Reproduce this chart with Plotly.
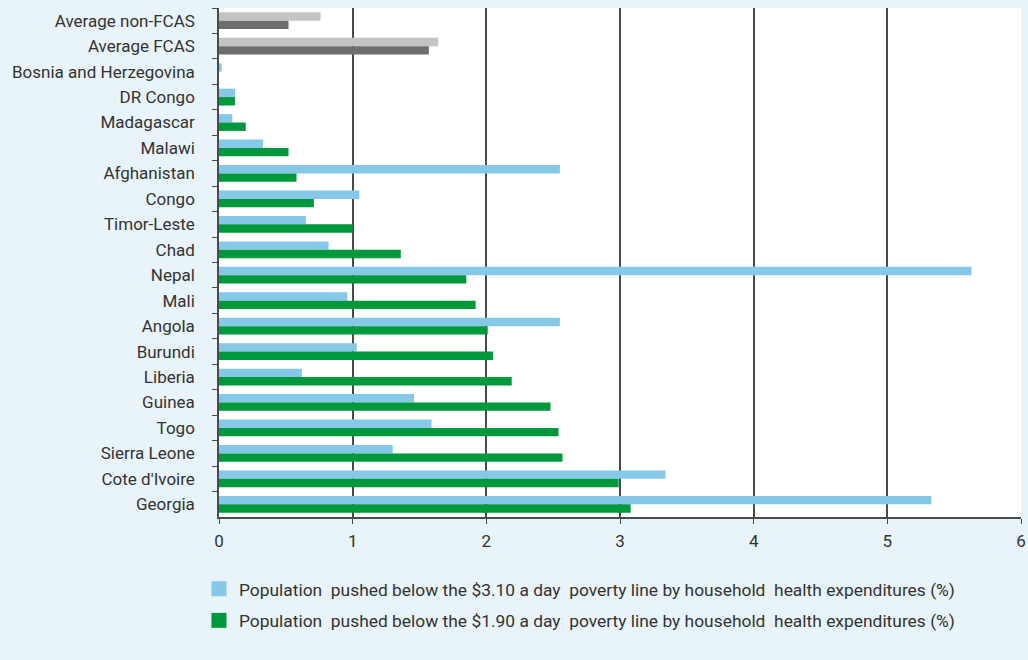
import plotly.graph_objects as go

countries = [
    "Average non-FCAS", "Average FCAS", "Bosnia and Herzegovina", "DR Congo",
    "Madagascar", "Malawi", "Afghanistan", "Congo", "Timor-Leste", "Chad",
    "Nepal", "Mali", "Angola", "Burundi", "Liberia", "Guinea", "Togo",
    "Sierra Leone", "Cote d'Ivoire", "Georgia",
]
pushed_310 = [0.76, 1.64, 0.02, 0.12, 0.10, 0.33, 2.55, 1.05, 0.65, 0.82,
              5.63, 0.96, 2.55, 1.03, 0.62, 1.46, 1.59, 1.30, 3.34, 5.33]
pushed_190 = [0.52, 1.57, 0.0, 0.12, 0.20, 0.52, 0.58, 0.71, 1.00, 1.36,
              1.85, 1.92, 2.01, 2.05, 2.19, 2.48, 2.54, 2.57, 2.99, 3.08]
x_ticks = [0, 1, 2, 3, 4, 5, 6]

LIGHT_BLUE = "#85C8E8"
GREEN = "#00983D"
LIGHT_GREY = "#C4C4C4"
DARK_GREY = "#6E6E6E"
BG = "#E8F3FA"
AXIS = "#4a4a4a"

# the two averages rows are shown in greys
n_avg = 2
colors_310 = [LIGHT_GREY] * n_avg + [LIGHT_BLUE] * (len(countries) - n_avg)
colors_190 = [DARK_GREY] * n_avg + [GREEN] * (len(countries) - n_avg)

name_310 = "Population&nbsp; pushed below the $3.10 a day&nbsp; poverty line by household&nbsp; health expenditures (%)"
name_190 = "Population&nbsp; pushed below the $1.90 a day&nbsp; poverty line by household&nbsp; health expenditures (%)"

fig = go.Figure()
fig.add_trace(go.Bar(
    y=countries, x=pushed_310, orientation="h", name=name_310,
    marker=dict(color=colors_310, line=dict(width=0)),
    legendgroup="a", showlegend=False,
))
fig.add_trace(go.Bar(
    y=countries, x=pushed_190, orientation="h", name=name_190,
    marker=dict(color=colors_190, line=dict(width=0)),
    legendgroup="b", showlegend=False,
))

# legend swatches in the series colours (bars use per-row colours)
for name, col, grp in [(name_310, LIGHT_BLUE, "a"), (name_190, GREEN, "b")]:
    fig.add_trace(go.Scatter(
        x=[None], y=[None], mode="markers", name=name, legendgroup=grp,
        marker=dict(symbol="square", size=15, color=col),
        showlegend=True,
    ))

fig.update_layout(
    width=1028, height=660,
    margin=dict(l=219, r=7, t=8, b=143),
    paper_bgcolor=BG, plot_bgcolor="white",
    barmode="group", bargap=0.34, bargroupgap=0,
    font=dict(family="Roboto, sans-serif", size=17, color="#333333"),
    showlegend=True,
    legend=dict(
        x=-0.025, xanchor="left", y=-0.106, yanchor="top",
        orientation="v", traceorder="grouped", tracegroupgap=6,
        bgcolor="rgba(0,0,0,0)", font=dict(size=17.4, color="#333333"),
        itemwidth=30,
    ),
)
fig.update_xaxes(
    range=[0, 6], tickvals=x_ticks, ticktext=[str(v) for v in x_ticks],
    showgrid=True, gridcolor=AXIS, gridwidth=1.5,
    showline=True, linecolor=AXIS, linewidth=1.5,
    ticks="outside", ticklen=5, tickcolor=AXIS,
    zeroline=False, automargin=False, ticklabelstandoff=3,
)
fig.update_yaxes(
    autorange="reversed", categoryorder="array", categoryarray=countries,
    showline=True, linecolor=AXIS, linewidth=1.5,
    ticks="outside", ticklen=5, tickcolor=AXIS, tickson="boundaries",
    showgrid=False, ticklabelstandoff=19, automargin=False,
)

fig.write_html("out.html")
